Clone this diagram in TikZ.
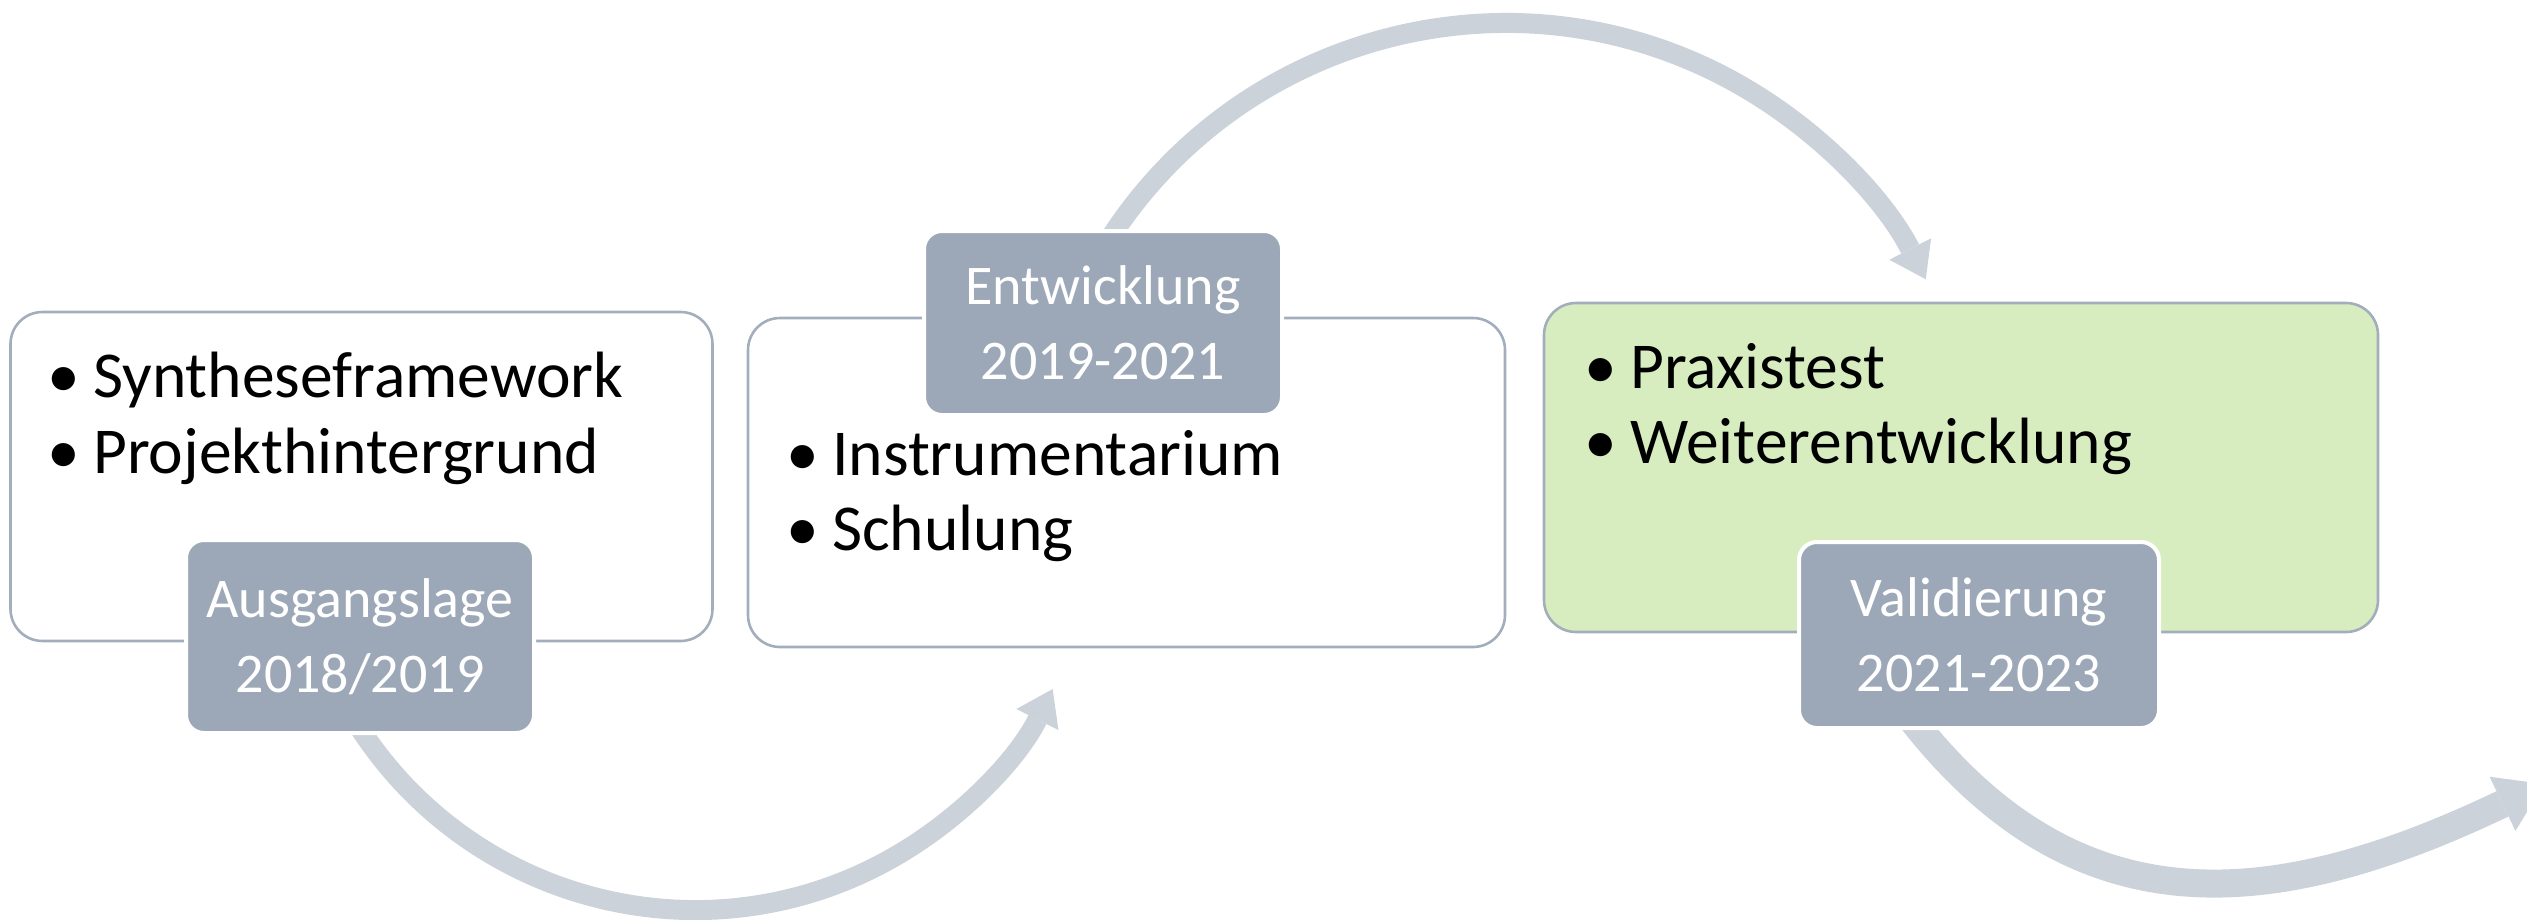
\documentclass[tikz,border=0pt]{standalone}
\usepackage{fontspec}
\setmainfont{Carlito}
\usetikzlibrary{arrows.meta}

\definecolor{boxline}{HTML}{A3AEBD}
\definecolor{tagfill}{HTML}{9CA8B7}
\definecolor{flow}{HTML}{CBD2DA}
\definecolor{phasegreen}{HTML}{D7EDC0}

\newcommand{\bul}{\llap{\textbullet\hspace{13pt}}}

\begin{document}
\begin{tikzpicture}[x=1pt,y=-1pt,
  phasebox/.style={draw=boxline, line width=2.6pt, fill=white,
    rounded corners=32pt, inner sep=0pt},
  tag/.style={fill=tagfill, draw=white, line width=4pt, rounded corners=18pt,
    inner sep=0pt, text=white, align=center,
    font=\fontsize{56}{75}\selectfont},
  bulletline/.style={anchor=base west, inner sep=0pt,
    font=\fontsize{65.5}{76}\selectfont},
  flowarrow/.style={draw=flow, line width=20pt,
    -{Triangle[width=47pt,length=34pt,line width=0pt]}},
  bigflow/.style={draw=flow, line width=28pt,
    -{Triangle[width=60pt,length=46pt,line width=0pt]}},
]
\useasboundingbox (0,0) rectangle (2527,919);
\clip (0,0) rectangle (2527,919);

% start points of the curved arrows (hidden under the phase tags)
\coordinate (a1s) at (348.6,710);
\coordinate (a2s) at (1097.2,259);
\coordinate (a3s) at (1903,708);
\coordinate (a3e) at (2544,784);

% curved arrows between the phases
\draw[flowarrow] (a1s) arc[start angle=150, end angle=26.6, radius=400];
\draw[flowarrow] (a2s) arc[start angle=-150, end angle=-27.2, radius=472];
\draw[bigflow] (a3s) .. controls (2065,924) and (2256,921.6) .. (a3e);

% phase boxes
\node[phasebox, minimum width=702pt, minimum height=329pt] (box1) at (361.5,476.5) {};
\node[phasebox, minimum width=757pt, minimum height=329pt] (box2) at (1126.5,482.5) {};
\node[phasebox, fill=phasegreen, minimum width=834pt, minimum height=329pt] (box3) at (1961,467.5) {};

% bullet items
\node[bulletline] (t11) at (93,397) {\bul Syntheseframework};
\node[bulletline] (t12) at (93,473) {\bul Projekthintergrund};
\node[bulletline] (t21) at (832,475) {\bul Instrumentarium};
\node[bulletline] (t22) at (832,550) {\bul Schulung};
\node[bulletline] (t31) at (1630,388) {\bul Praxistest};
\node[bulletline] (t32) at (1630,463) {\bul Weiterentwicklung};

% phase tags
\node[tag, minimum width=348pt, minimum height=193pt] (tag1) at (360,636.5) {Ausgangslage\\2018/2019};
\node[tag, minimum width=358pt, minimum height=184pt] (tag2) at (1103,323) {Entwicklung\\2019-2021};
\node[tag, minimum width=360pt, minimum height=186pt] (tag3) at (1979,635) {Validierung\\2021-2023};
\end{tikzpicture}
\end{document}
